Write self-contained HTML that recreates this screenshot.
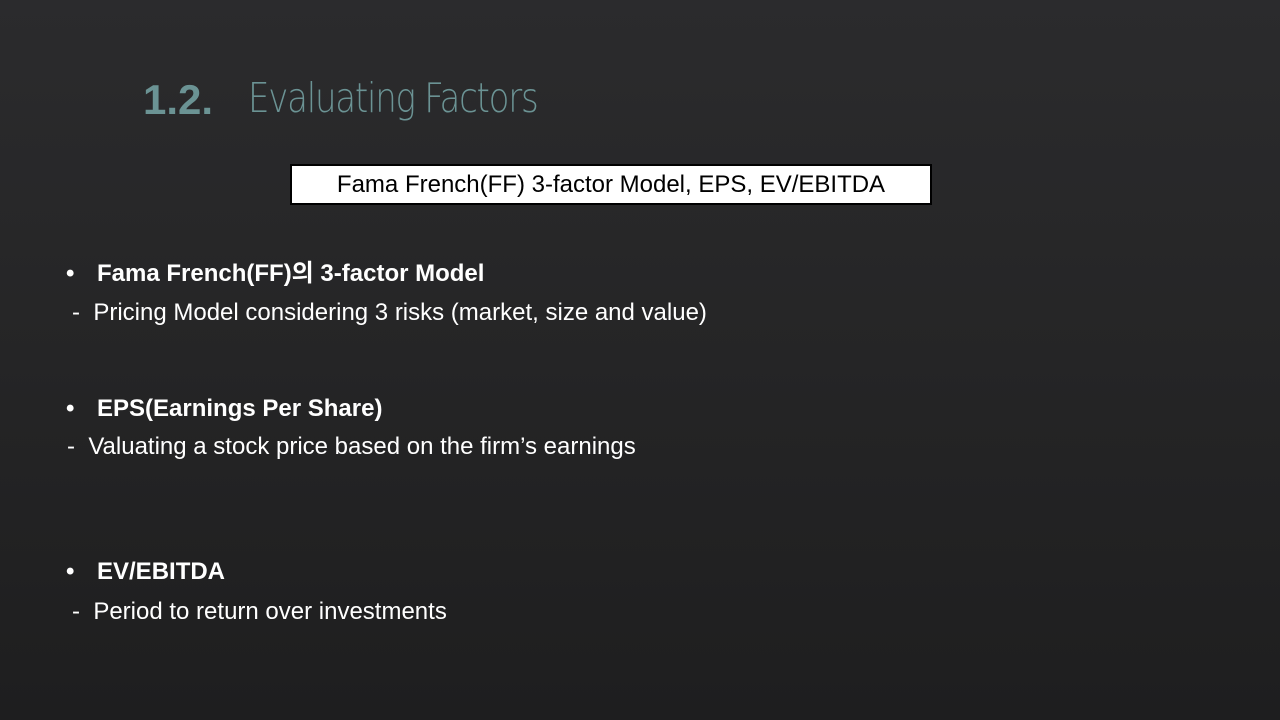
<!DOCTYPE html>
<html><head><meta charset="utf-8"><style>
html,body{margin:0;padding:0}
body{width:1280px;height:720px;overflow:hidden;position:relative;background:linear-gradient(180deg,#2b2b2d 0%,#252526 50%,#1e1e1f 100%);font-family:"Liberation Sans","Noto Sans CJK KR",sans-serif;color:#fff}
.abs{position:absolute;white-space:nowrap}
.num{left:143px;top:76px;font-size:42px;font-weight:bold;color:#6b9394}
.title{left:248px;top:74px;font-size:41px;color:#6b9394;font-family:"DejaVu Sans","Liberation Sans",sans-serif;font-weight:200;letter-spacing:-1.5px;transform:scaleX(0.83);transform-origin:left top}
.box{left:290px;top:164px;width:638px;height:37px;border:2px solid #000;background:#fff;color:#000;font-size:24px;text-align:center;line-height:37px}
.b{font-size:24px;font-weight:bold;line-height:28px}
.t{font-size:24px;line-height:28px}
</style></head><body>
<div class="abs num">1.2.</div>
<div class="abs title">Evaluating Factors</div>
<div class="abs box">Fama French(FF) 3-factor Model, EPS, EV/EBITDA</div>
<div class="abs b" style="left:66px;top:260px">•</div>
<div class="abs b" style="left:97px;top:260px">Fama French(FF)의 3-factor Model</div>
<div class="abs t" style="left:72px;top:299px">-&nbsp;&nbsp;Pricing Model considering 3 risks (market, size and value)</div>
<div class="abs b" style="left:66px;top:395px">•</div>
<div class="abs b" style="left:97px;top:395px">EPS(Earnings Per Share)</div>
<div class="abs t" style="left:67px;top:433px">-&nbsp;&nbsp;Valuating a stock price based on the firm’s earnings</div>
<div class="abs b" style="left:66px;top:558px">•</div>
<div class="abs b" style="left:97px;top:558px">EV/EBITDA</div>
<div class="abs t" style="left:72px;top:598px">-&nbsp;&nbsp;Period to return over investments</div>
</body></html>
